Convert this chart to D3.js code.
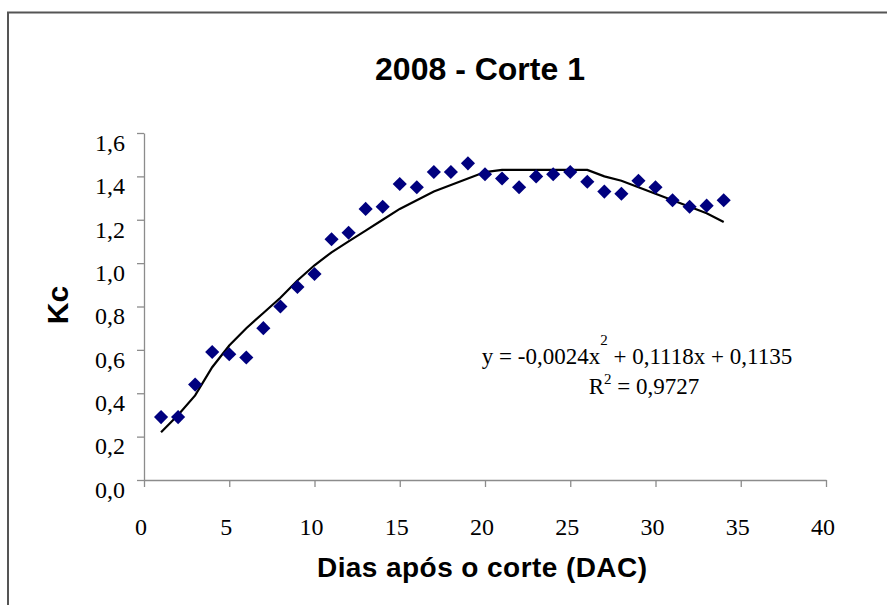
<!DOCTYPE html>
<html>
<head>
<meta charset="utf-8">
<script src="https://cdn.jsdelivr.net/npm/d3@7"></script>
<style>
  body { margin: 0; background: #fff; }
  svg { display: block; }
</style>
</head>
<body>
<svg id="chart" width="887" height="605"></svg>
<script>
// observed Kc per day after cut
const days = [1, 2, 3, 4, 5, 6, 7, 8, 9, 10, 11, 12, 13, 14, 15, 16, 17,
              18, 19, 20, 21, 22, 23, 24, 25, 26, 27, 28, 29, 30, 31, 32, 33, 34];
const kcValues = [0.29, 0.29, 0.44, 0.59, 0.58, 0.565, 0.70, 0.80, 0.89, 0.95, 1.11, 1.14,
                  1.25, 1.26, 1.365, 1.35, 1.42, 1.42, 1.46, 1.41, 1.39, 1.35, 1.40, 1.41,
                  1.42, 1.375, 1.33, 1.32, 1.38, 1.35, 1.29, 1.26, 1.265, 1.29];
// trend line as drawn in the picture
const trendValues = [0.22, 0.30, 0.39, 0.52, 0.62, 0.70, 0.77, 0.84, 0.92, 0.99, 1.05, 1.10,
                     1.15, 1.20, 1.25, 1.29, 1.33, 1.36, 1.39, 1.42, 1.43, 1.43, 1.43, 1.43,
                     1.43, 1.43, 1.40, 1.38, 1.35, 1.32, 1.29, 1.26, 1.23, 1.19];
const xTicks = [0, 5, 10, 15, 20, 25, 30, 35, 40];
const yTicks = [0, 0.2, 0.4, 0.6, 0.8, 1.0, 1.2, 1.4, 1.6];

const svg = d3.select('#chart');
const serif = '"Liberation Serif", "Times New Roman", serif';
const sans = '"Liberation Sans", Arial, sans-serif';

// outer frame
svg.append('rect')
    .attr('x', 8).attr('y', 12.5)
    .attr('width', 900).attr('height', 620)
    .attr('fill', 'none')
    .attr('stroke', '#555')
    .attr('stroke-width', 2);

const xScale = d3.scaleLinear().domain([0, 40]).range([144, 826]);
const yScale = d3.scaleLinear().domain([0, 1.6]).range([480, 133]);

const fmt = (d) => d.toFixed(1).replace('.', ',');

const xAxis = svg.append('g')
    .attr('transform', 'translate(0,480)')
    .call(d3.axisBottom(xScale).tickValues(xTicks).tickSize(7).tickPadding(31).tickSizeOuter(0));

const yAxis = svg.append('g')
    .attr('transform', 'translate(144,0)')
    .call(d3.axisLeft(yScale).tickValues(yTicks).tickFormat(fmt).tickSize(7).tickPadding(12).tickSizeOuter(0));

[xAxis, yAxis].forEach((ax) => {
    ax.attr('font-family', serif).attr('font-size', 24);
    ax.selectAll('path, line').attr('stroke', '#8c8c8c').attr('stroke-width', 1.3);
    ax.selectAll('.tick text').attr('fill', '#000');
});
xAxis.selectAll('.tick text').attr('dx', '-0.15em');
yAxis.selectAll('.tick text').attr('dy', '0.72em');

// trend line
const line = d3.line()
    .x((d, i) => xScale(days[i]))
    .y((d) => yScale(d));

svg.append('path')
    .datum(trendValues)
    .attr('d', line)
    .attr('fill', 'none')
    .attr('stroke', '#000')
    .attr('stroke-width', 2.2);

// diamond markers
const diamond = d3.symbol().type(d3.symbolSquare).size(100);
svg.selectAll('.pt')
    .data(kcValues)
    .enter()
    .append('path')
    .attr('class', 'pt')
    .attr('d', diamond)
    .attr('transform', (d, i) => `translate(${xScale(days[i])},${yScale(d)}) rotate(45)`)
    .attr('fill', '#00007f');

// title
svg.append('text')
    .attr('x', 480).attr('y', 80)
    .attr('text-anchor', 'middle')
    .style('font-family', sans)
    .style('font-weight', 'bold')
    .style('font-size', '32px')
    .text('2008 - Corte 1');

// axis titles
svg.append('text')
    .attr('transform', 'translate(68,305) rotate(-90)')
    .attr('text-anchor', 'middle')
    .style('font-family', sans)
    .style('font-weight', 'bold')
    .style('font-size', '30px')
    .text('Kc');

svg.append('text')
    .attr('x', 482).attr('y', 577)
    .attr('text-anchor', 'middle')
    .attr('textLength', 330)
    .attr('lengthAdjust', 'spacing')
    .style('font-family', sans)
    .style('font-weight', 'bold')
    .style('font-size', '28px')
    .text('Dias após o corte (DAC)');

// equation
const eq = svg.append('text')
    .attr('x', 637).attr('y', 364)
    .attr('text-anchor', 'middle')
    .style('font-family', serif)
    .style('font-size', '23px');
eq.append('tspan').text('y = -0,0024x');
eq.append('tspan').attr('dy', -19).style('font-size', '15px').text('2');
eq.append('tspan').attr('dy', 19).text(' + 0,1118x + 0,1135');

const r2 = svg.append('text')
    .attr('x', 644).attr('y', 394)
    .attr('text-anchor', 'middle')
    .style('font-family', serif)
    .style('font-size', '23px');
r2.append('tspan').text('R');
r2.append('tspan').attr('dy', -10).style('font-size', '15px').text('2');
r2.append('tspan').attr('dy', 10).text(' = 0,9727');
</script>
</body>
</html>
